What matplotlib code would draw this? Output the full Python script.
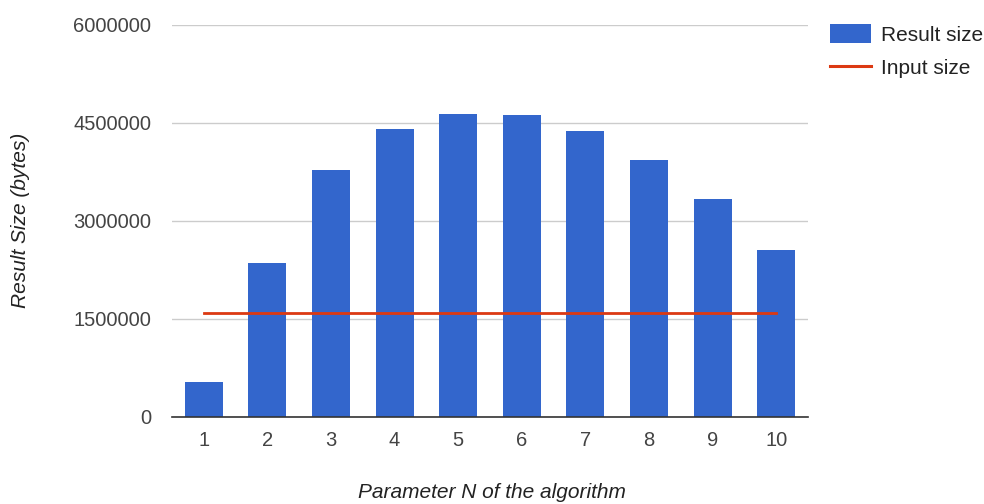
import matplotlib.pyplot as plt
import matplotlib.ticker as mticker
from matplotlib.patches import Patch
from matplotlib.lines import Line2D

plt.rcParams['font.family'] = ['Liberation Sans', 'DejaVu Sans']

# data
params = [1, 2, 3, 4, 5, 6, 7, 8, 9, 10]
result_size = [535000, 2355000, 3775000, 4410000, 4645000, 4618000, 4380000, 3935000, 3330000, 2562000]
input_size = [1597000] * 10
y_ticks = [0, 1500000, 3000000, 4500000, 6000000]

fig = plt.figure(figsize=(9.84, 5.04), dpi=100)
ax = fig.add_axes([172 / 984, 1 - 417 / 504, 636 / 984, 392 / 504])

ax.bar(params, result_size, width=0.6, color='#3366cc', zorder=2)
ax.plot(params, input_size, color='#dc3912', linewidth=2.0, zorder=3)

ax.set_xlim(0.5, 10.5)
ax.set_ylim(0, 6000000)
ax.set_yticks(y_ticks)
ax.set_xticks(params)
ax.yaxis.set_major_formatter(mticker.FuncFormatter(lambda v, p: f'{int(v)}'))
ax.tick_params(length=0, labelsize=14.5, colors='#444444')
ax.tick_params(axis='y', pad=15)
ax.tick_params(axis='x', pad=10)
ax.grid(axis='y', color='#cccccc', linewidth=1, zorder=0)
for s in ['top', 'right', 'left']:
    ax.spines[s].set_visible(False)
ax.spines['bottom'].set_color('#333333')
ax.spines['bottom'].set_linewidth(1.2)
ax.spines['bottom'].set_zorder(4)

fig.text(21 / 984, 1 - 220 / 504, 'Result Size (bytes)', fontstyle='italic', rotation=90,
         fontsize=15, color='#222222', ha='center', va='center')
fig.text(492 / 984, 1 - 493 / 504, 'Parameter N of the algorithm', fontstyle='italic',
         fontsize=15, color='#222222', ha='center', va='center')

handles = [Patch(facecolor='#3366cc', edgecolor='none', label='Result size'),
           Line2D([0], [0], color='#dc3912', linewidth=2.2, label='Input size')]
fig.legend(handles=handles, loc='upper left', bbox_to_anchor=(830 / 984, 1 - 24 / 504),
           frameon=False, fontsize=15, handlelength=1.97, handleheight=1.05,
           labelspacing=0.6, handletextpad=0.48, borderpad=0, borderaxespad=0,
           labelcolor='#222222')

fig.savefig('out.png', dpi=100)
